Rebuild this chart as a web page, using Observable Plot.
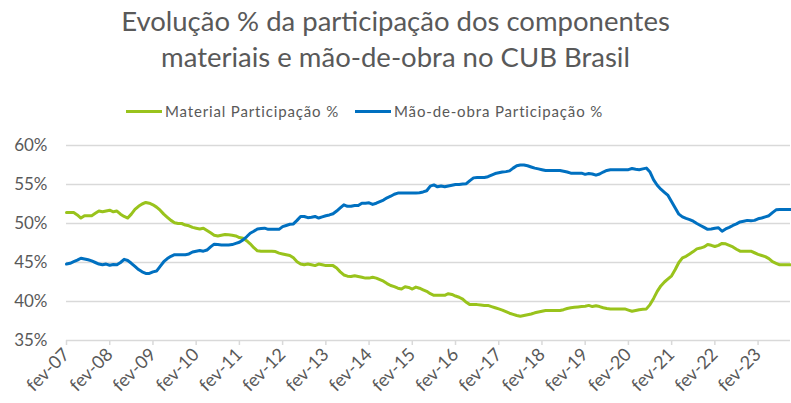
<!DOCTYPE html>
<html>
<head>
<meta charset="utf-8">
<script src="https://cdn.jsdelivr.net/npm/d3@7"></script>
<script src="https://cdn.jsdelivr.net/npm/@observablehq/plot@0.6"></script>
<style>
  html, body { margin: 0; padding: 0; background: #fff; }
  body { width: 791px; height: 403px; position: relative; overflow: hidden; font-family: Lato, "Open Sans", sans-serif; }
  #title { position: absolute; top: 3px; left: 0; width: 791px; text-align: center; font-size: 27.5px; line-height: 36px; color: #595959; }
  #legend { position: absolute; top: 102px; left: 126px; display: flex; align-items: center; font-size: 15px; color: #595959; letter-spacing: 0.85px; white-space: nowrap; }
  #legend .item { display: flex; align-items: center; margin-right: 16px; }
  #legend .sw { width: 36px; height: 3px; margin-right: 3px; }
  #chart { position: absolute; top: 130px; left: 0; }
</style>
</head>
<body>
<div id="title">Evolução % da participação dos componentes<br>materiais e mão-de-obra no CUB Brasil</div>
<div id="legend"></div>
<div id="chart"></div>
<script>
// Series names and colours
const seriesNames = ["Material Participação %", "Mão-de-obra Participação %"];
const seriesColors = ["#99C31C", "#0070C0"];

// X tick labels (every February, one per 12 months starting Feb 2007)
const tickLabels = ["fev-07","fev-08","fev-09","fev-10","fev-11","fev-12","fev-13","fev-14","fev-15","fev-16","fev-17","fev-18","fev-19","fev-20","fev-21","fev-22","fev-23"];

// Y ticks (%)
const yTicks = [35, 40, 45, 50, 55, 60];

// Monthly values, Feb 2007 .. Nov 2023
const material = [
  51.4,51.4,51.4,51.1,50.7,51.0,51.0,51.0,51.3,51.6,51.5,51.6,
  51.7,51.5,51.6,51.2,50.9,50.7,51.2,51.8,52.2,52.5,52.7,52.6,
  52.4,52.1,51.7,51.2,50.8,50.4,50.1,50.0,50.0,49.8,49.7,49.5,
  49.4,49.3,49.4,49.1,48.8,48.5,48.4,48.5,48.6,48.55,48.5,48.4,
  48.2,48.1,47.8,47.4,46.9,46.5,46.45,46.45,46.45,46.45,46.4,46.2,
  46.1,46.0,45.9,45.6,45.1,44.8,44.7,44.8,44.7,44.6,44.8,44.7,
  44.6,44.6,44.6,44.3,43.8,43.4,43.25,43.2,43.3,43.2,43.1,43.0,
  43.0,43.1,43.0,42.8,42.6,42.3,42.05,41.9,41.7,41.6,41.9,41.8,
  41.6,41.85,41.7,41.5,41.3,41.0,40.8,40.8,40.8,40.8,41.0,40.9,
  40.7,40.55,40.3,39.9,39.6,39.6,39.6,39.55,39.5,39.5,39.35,39.2,
  39.05,38.9,38.7,38.5,38.35,38.2,38.1,38.2,38.3,38.4,38.55,38.65,
  38.75,38.85,38.85,38.85,38.85,38.85,38.95,39.1,39.2,39.25,39.3,39.35,
  39.4,39.5,39.35,39.45,39.35,39.2,39.1,39.05,39.05,39.05,39.05,39.05,
  38.9,38.75,38.85,38.95,39.0,39.05,39.6,40.4,41.3,42.0,42.5,42.9,
  43.3,44.1,45.0,45.6,45.8,46.1,46.4,46.75,46.85,47.0,47.3,47.2,
  47.05,47.2,47.45,47.4,47.2,47.0,46.7,46.45,46.45,46.45,46.45,46.25,
  46.05,45.9,45.75,45.5,45.1,44.9,44.7,44.7,44.7,44.7
];
const maoDeObra = [
  44.8,44.9,45.1,45.3,45.55,45.45,45.35,45.2,45.0,44.8,44.7,44.8,
  44.65,44.75,44.7,45.0,45.4,45.25,44.9,44.5,44.1,43.8,43.6,43.6,
  43.8,43.9,44.5,45.1,45.5,45.8,46.0,46.0,46.0,46.0,46.1,46.35,
  46.45,46.55,46.45,46.6,47.0,47.35,47.3,47.25,47.25,47.25,47.3,47.45,
  47.6,47.9,48.3,48.75,49.0,49.3,49.35,49.4,49.25,49.25,49.25,49.25,
  49.6,49.75,49.9,49.95,50.4,50.9,50.9,50.75,50.8,50.9,50.7,50.85,
  51.0,51.1,51.25,51.6,52.0,52.4,52.2,52.2,52.3,52.3,52.6,52.6,
  52.65,52.45,52.6,52.8,53.0,53.3,53.5,53.75,53.9,53.9,53.9,53.9,
  53.9,53.9,53.95,54.05,54.2,54.8,54.95,54.7,54.8,54.7,54.8,54.9,
  55.0,55.0,55.05,55.1,55.5,55.85,55.9,55.9,55.9,56.0,56.2,56.4,
  56.5,56.6,56.65,56.75,57.1,57.4,57.5,57.5,57.4,57.25,57.1,57.0,
  56.9,56.8,56.8,56.8,56.8,56.8,56.7,56.6,56.45,56.45,56.45,56.45,
  56.3,56.4,56.35,56.2,56.35,56.6,56.8,56.9,56.9,56.9,56.9,56.9,
  56.9,57.05,56.95,56.9,57.0,57.1,56.6,55.6,54.9,54.4,54.0,53.6,
  52.8,52.0,51.2,50.85,50.65,50.5,50.3,50.0,49.75,49.5,49.25,49.3,
  49.4,49.45,49.0,49.3,49.5,49.75,49.95,50.2,50.3,50.4,50.35,50.4,
  50.6,50.7,50.85,51.0,51.4,51.75,51.8,51.8,51.8,51.8
];

const rows = [];
material.forEach((v, i) => rows.push({i, v, s: seriesNames[0]}));
maoDeObra.forEach((v, i) => rows.push({i, v, s: seriesNames[1]}));

// Legend
const leg = document.getElementById("legend");
seriesNames.forEach((n, k) => {
  const it = document.createElement("div");
  it.className = "item";
  it.innerHTML = `<span class="sw" style="background:${seriesColors[k]}"></span><span>${n}</span>`;
  leg.appendChild(it);
});

const tickPos = tickLabels.map((_, k) => k * 12);

const chart = Plot.plot({
  width: 791,
  height: 273,
  marginTop: 15,
  marginBottom: 63,
  marginLeft: 66,
  marginRight: 1,
  style: { fontFamily: "Lato, 'Open Sans', sans-serif", color: "#595959", background: "#fff" },
  x: { domain: [0, material.length - 1], label: null },
  y: { domain: [35, 60], label: null },
  color: { domain: seriesNames, range: seriesColors },
  marks: [
    Plot.gridY(yTicks, { stroke: "#d9d9d9", strokeOpacity: 1, strokeWidth: 1.5 }),
    Plot.axisY(yTicks, { tickSize: 0, tickPadding: 19, tickFormat: d => d + "%", fontSize: 17, fill: "#595959", label: null }),
    Plot.axisX(tickPos, { tickSize: 5, stroke: "#d9d9d9", strokeWidth: 1.5, tickRotate: -45, tickPadding: 6, dx: 0, tickFormat: (d, k) => tickLabels[k], fontSize: 18, fill: "#595959", label: null }),
    Plot.lineY(rows, { x: "i", y: "v", z: "s", stroke: "s", strokeWidth: 3, curve: "linear" })
  ]
});
document.getElementById("chart").appendChild(chart);
</script>
</body>
</html>
